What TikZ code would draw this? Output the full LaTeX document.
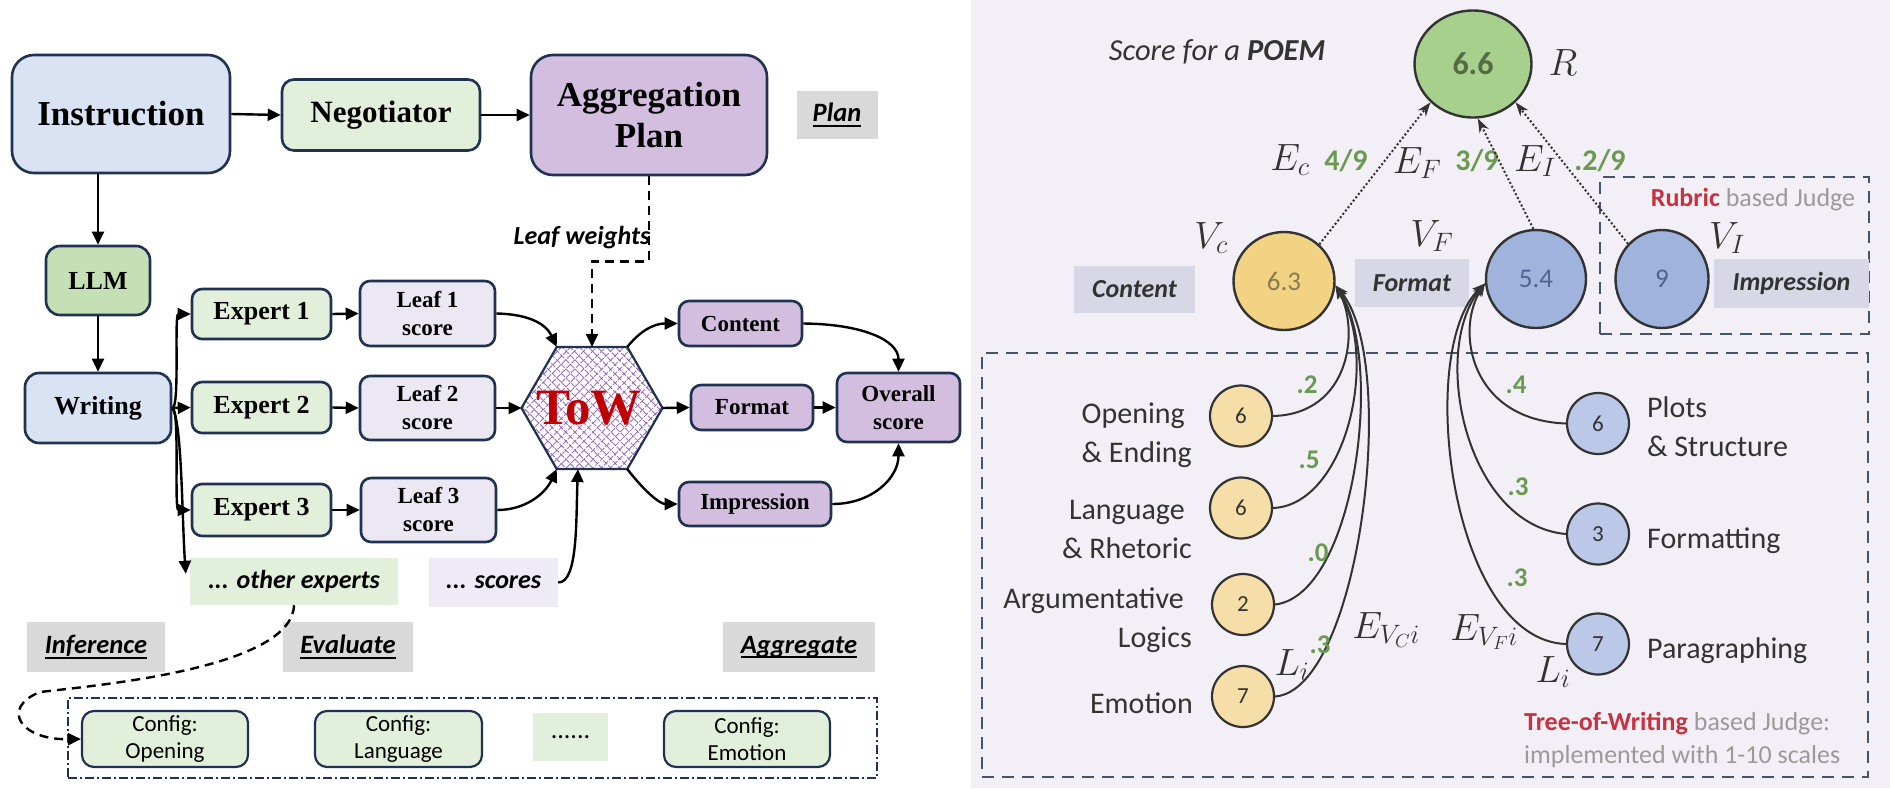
\RequirePackage{fix-cm}
\documentclass[tikz,border=0pt]{standalone}
\usepackage{fontspec}
\setmainfont{Carlito}
\newfontfamily\tnr{Liberation Serif}
\usetikzlibrary{arrows.meta,shapes.geometric,patterns.meta,calc}
\definecolor{navy}{HTML}{1F3251}
\definecolor{cblue}{HTML}{DAE3F3}
\definecolor{cgreenl}{HTML}{E2EFDA}
\definecolor{cllm}{HTML}{C5E0B4}
\definecolor{cpurp}{HTML}{D3BEE0}
\definecolor{cleafbg}{HTML}{EBE7F3}
\definecolor{cscores}{HTML}{EFEBF6}
\definecolor{cgray}{HTML}{D9D9D9}
\definecolor{rbg}{HTML}{F3EFF6}
\definecolor{rlab}{HTML}{D7D7E5}
\definecolor{cR}{HTML}{A8D08D}
\definecolor{cVc}{HTML}{F2D384}
\definecolor{cleafY}{HTML}{F6DEA8}
\definecolor{cVf}{HTML}{9FB3DD}
\definecolor{cleafB}{HTML}{BBC8E8}
\definecolor{wgreen}{HTML}{6A9A50}
\definecolor{tred}{HTML}{C8323F}
\definecolor{tgray}{HTML}{9A9A9A}
\definecolor{dframe}{HTML}{44546A}
\definecolor{tdark}{HTML}{333333}
\definecolor{hatch}{HTML}{7030A0}
\definecolor{towred}{HTML}{C00000}
\newcommand\fsz[2]{\fontsize{#1}{#2}\selectfont}
\newcommand\myul[1]{\setbox0\hbox{#1}\rlap{\rule[-5pt]{\wd0}{2.2pt}}\box0}
\begin{document}
\begin{tikzpicture}[x=1pt,y=-1pt,
  box/.style={draw=navy, line width=2.6pt, rounded corners=10pt, align=center, inner sep=0pt, text=black},
  tbig/.style={font=\tnr\bfseries\fsz{35}{41}},
  tmid/.style={font=\tnr\bfseries\fsz{26}{30}},
  tsml/.style={font=\tnr\bfseries\fsz{23}{28}},
  glabel/.style={fill=cgray, inner sep=0pt, font=\bfseries\itshape\fsz{26.5}{30}},
  arr/.style={line width=2.4pt, draw=black, -{Triangle[length=13pt,width=12pt]}},
  dasharr/.style={line width=2.4pt, draw=black, dash pattern=on 9pt off 6pt, -{Triangle[length=13pt,width=12pt]}},
  rlabel/.style={fill=rlab, inner sep=0pt, font=\bfseries\itshape\fsz{26}{30}, text=tdark},
  vnode/.style={ellipse, draw=tdark, line width=2.4pt, inner sep=0pt},
  lnode/.style={ellipse, draw=tdark, line width=2.2pt, inner sep=0pt, minimum width=62pt, minimum height=61pt, font=\fsz{23}{26}, text=tdark},
  mathl/.style={inner sep=0pt, font=\fsz{38}{40}, text=tdark},
  wlab/.style={inner sep=0pt, font=\bfseries\fsz{30}{32}, text=wgreen},
  wsml/.style={inner sep=0pt, font=\bfseries\fsz{27}{30}, text=wgreen},
  leaftxt/.style={inner sep=0pt, font=\fsz{30}{39}, text=tdark},
  dotarr/.style={line width=2pt, draw=tdark, dash pattern=on 2pt off 2.2pt, -{Stealth[length=14pt,width=10pt]}},
  curv/.style={line width=2pt, draw=tdark, -{Stealth[length=13pt,width=10pt]}},
  dframebox/.style={draw=dframe, line width=2.6pt, dash pattern=on 12pt off 8pt, inner sep=0pt}
]
\useasboundingbox (0,0) rectangle (1890,788);
% ---------------- left panel ----------------
\node[box, tbig, fill=cblue, rounded corners=22pt, minimum width=218pt, minimum height=118pt] (instr) at (121,114) {Instruction};
\node[box, font=\tnr\bfseries\fsz{31}{35}, fill=cgreenl, rounded corners=12pt, minimum width=198pt, minimum height=71pt] (nego) at (381,115) {Negotiator};
\node[box, tbig, fill=cpurp, rounded corners=22pt, minimum width=236pt, minimum height=120pt] (aggp) at (649,115) {Aggregation\\Plan};
\node[glabel, minimum width=81pt, minimum height=48pt] (plan) at (837,115) {\myul{Plan}};
\node[box, tmid, fill=cllm, rounded corners=14pt, minimum width=104pt, minimum height=69pt] (llm) at (98,280.5) {LLM};
\node[box, tmid, fill=cblue, rounded corners=14pt, minimum width=146pt, minimum height=70pt] (writing) at (98,408) {Writing};
\node[box, tmid, fill=cgreenl, minimum width=139pt, minimum height=50pt] (exp1) at (261.5,314) {Expert 1};
\node[box, tmid, fill=cgreenl, minimum width=139pt, minimum height=51pt] (exp2) at (261.5,407.5) {Expert 2};
\node[box, tmid, fill=cgreenl, minimum width=139pt, minimum height=52pt] (exp3) at (261.5,510) {Expert 3};
\node[box, tsml, fill=cleafbg, minimum width=135pt, minimum height=65pt] (leaf1) at (427.5,313.5) {Leaf 1\\score};
\node[box, tsml, fill=cleafbg, minimum width=135pt, minimum height=64pt] (leaf2) at (427.5,408) {Leaf 2\\score};
\node[box, tsml, fill=cleafbg, minimum width=135pt, minimum height=64pt] (leaf3) at (428.5,510) {Leaf 3\\score};
\node[fill=cgreenl, inner sep=0pt, minimum width=208pt, minimum height=47pt, font=\bfseries\itshape\fsz{26}{30}] (other) at (294,581.5) {... other experts};
\node[fill=cscores, inner sep=0pt, minimum width=129pt, minimum height=49pt, font=\bfseries\itshape\fsz{26}{30}] (scores) at (493.5,582.5) {... scores};
\node[regular polygon, regular polygon sides=6, minimum size=141pt, inner sep=0pt, outer sep=0pt,
  draw=navy, line width=2.2pt,
  preaction={fill=white},
  preaction={pattern={Lines[angle=45,distance=6.4pt,line width=1pt]}, pattern color=hatch},
  preaction={pattern={Lines[angle=-45,distance=6.4pt,line width=1pt]}, pattern color=hatch}] (tow) at (592,408) {};
\node[inner sep=0pt, font=\tnr\bfseries\fsz{51}{52}, text=towred] (towtxt) at (589,408) {ToW};
\node[box, tsml, fill=cpurp, minimum width=123pt, minimum height=45pt] (content) at (740.5,323.5) {Content};
\node[box, tsml, fill=cpurp, minimum width=122pt, minimum height=45pt] (format) at (752,407.5) {Format};
\node[box, tsml, fill=cpurp, minimum width=152pt, minimum height=44pt] (impr) at (755,504) {Impression};
\node[box, tsml, fill=cpurp, minimum width=123pt, minimum height=69pt] (overall) at (898.5,407.5) {Overall\\score};
\node[inner sep=0pt, font=\bfseries\itshape\fsz{26}{30}] (lw) at (582,238) {Leaf weights};
\node[glabel, minimum width=138pt, minimum height=50pt] (inference) at (96,647) {\myul{Inference}};
\node[glabel, minimum width=130pt, minimum height=50pt] (evaluate) at (348,647) {\myul{Evaluate}};
\node[glabel, minimum width=152pt, minimum height=50pt] (aggregate) at (799,647) {\myul{Aggregate}};
\node[draw=navy, line width=2.4pt, dash pattern=on 9pt off 3pt on 2pt off 3pt, minimum width=809pt, minimum height=80pt, inner sep=0pt] (cfgframe) at (472.5,738) {};
\node[box, font=\fsz{23}{27}, fill=cgreenl, line width=2.2pt, rounded corners=12pt, minimum width=166pt, minimum height=56pt] (copen) at (165,739) {Config:\\Opening};
\node[box, font=\fsz{23}{27}, fill=cgreenl, line width=2.2pt, rounded corners=12pt, minimum width=167pt, minimum height=56pt] (clang) at (398.5,739) {Config:\\Language};
\node[fill=cgreenl, inner sep=0pt, minimum width=75pt, minimum height=48pt, font=\fsz{26}{30}] (cdots) at (570.5,737) {......};
\node[box, font=\fsz{23}{27}, fill=cgreenl, line width=2.2pt, rounded corners=12pt, minimum width=166pt, minimum height=56pt] (cemo) at (747,739) {Config:\\Emotion};
% left connectors
\draw[arr] (instr.east) -- (nego.west);
\draw[arr] (nego.east) -- (aggp.west);
\draw[arr] (llm.north |- instr.south) -- (llm.north);
\draw[arr] (llm.south) -- (writing.north);
\draw[arr] (writing.east) .. controls (180,408) and (174,314) .. (exp1.west);
\draw[arr] (writing.east) -- (exp2.west);
\draw[arr] (writing.east) .. controls (180,408) and (174,510) .. (exp3.west);
\draw[arr] (writing.east) .. controls (182,420) and (182,520) .. ($(other.north west)+(-4,16)$);
\draw[arr] (exp1.east) -- (leaf1.west);
\draw[arr] (exp2.east) -- (leaf2.west);
\draw[arr] (exp3.east) -- (leaf3.west);
\draw[arr] (leaf1.east) .. controls (525,314) and (545,322) .. (tow.120);
\draw[arr] (leaf2.east) -- (tow.west);
\draw[arr] (leaf3.east) .. controls (525,510) and (545,494) .. (tow.240);
\draw[arr] (scores.east) .. controls (578,583) and (576,520) .. ($(tow.240)!0.3!(tow.300)$);
\draw[dasharr] (aggp.south) -- ++(0,85) -| (tow.north);
\draw[arr] (tow.60) .. controls (645,325) and (660,323.5) .. (content.west);
\draw[arr] (tow.east) -- (format.west);
\draw[arr] (tow.300) .. controls (645,492) and (660,504) .. (impr.west);
\draw[arr] (content.east) .. controls (862,324) and (898.5,340) .. (overall.north);
\draw[arr] (format.east) -- (overall.west);
\draw[arr] (impr.east) .. controls (872,504) and (898.5,478) .. (overall.south);
\draw[dasharr] (other.south) .. controls (292,668) and (100,685) .. (40,692) .. controls (0,708) and (20,740) .. (copen.west);
% ---------------- right panel ----------------
\fill[rbg] (971,0) rectangle (1890,788);
\node[dframebox, minimum width=886pt, minimum height=424pt] (towframe) at (1425,565) {};
\node[dframebox, minimum width=269pt, minimum height=157pt] (rubframe) at (1734.5,255.5) {};
\node[inner sep=0pt, font=\itshape\fsz{30.5}{34}, text=tdark] (title) at (1217,52) {Score for a \textbf{POEM}};
\node[vnode, fill=cR, minimum width=117pt, minimum height=107pt, font=\bfseries\fsz{32}{34}, text={rgb,255:red,85;green,107;blue,68}] (R) at (1473,64) {6.6};
\node[mathl] (Rl) at (1563,63) {$R$};
\node[rlabel, minimum width=121pt, minimum height=47pt] (contlbl) at (1134.5,289.5) {Content};
\node[rlabel, minimum width=114pt, minimum height=48pt] (fmtlbl) at (1412,283) {Format};
\node[rlabel, minimum width=155pt, minimum height=49pt] (impllbl) at (1791.5,283.5) {Impression};
\node[vnode, fill=cVc, minimum width=101pt, minimum height=98pt, font=\fsz{27}{30}, text={rgb,255:red,139;green,123;blue,79}] (vc) at (1284,281) {6.3};
\node[vnode, fill=cVf, minimum width=100pt, minimum height=98pt, font=\fsz{27}{30}, text={rgb,255:red,77;green,101;blue,146}] (vf) at (1536,279) {5.4};
\node[vnode, fill=cVf, minimum width=93pt, minimum height=98pt, font=\fsz{27}{30}, text={rgb,255:red,77;green,101;blue,146}] (vi) at (1662,279) {9};
\node[mathl] (Vcl) at (1211,238) {$V_c$};
\node[mathl] (Vfl) at (1432,236) {$V_F$};
\node[mathl] (Vil) at (1727,238) {$V_I$};
\node[mathl] (Ecl) at (1290,160) {$E_c$};
\node[mathl] (Efl) at (1417,163) {$E_F$};
\node[mathl] (Eil) at (1535,161) {$E_I$};
\node[wlab] (w49) at (1346,161) {4/9};
\node[wlab] (w39) at (1477,161) {3/9};
\node[wlab] (w29) at (1600,161) {.2/9};
\node[inner sep=0pt, font=\fsz{26}{30}] (rubtxt) at (1753,200) {{\color{tred}\bfseries Rubric} {\color{tgray}based Judge}};
\draw[dotarr] (vc.46) -- (R.222);
\draw[dotarr] (vf.93) -- (R.275);
\draw[dotarr] (vi.134) -- (R.318);
% content leaves
\node[lnode, fill=cleafY] (lop) at (1241,416) {6};
\node[lnode, fill=cleafY] (llang) at (1241,508) {6};
\node[lnode, fill=cleafY] (larg) at (1243,604.5) {2};
\node[lnode, fill=cleafY] (lemo) at (1243,696.5) {7};
\node[leaftxt, anchor=east, align=right] (toplbl) at (1192,435.5) {Opening\kern7pt\\\& Ending};
\node[leaftxt, anchor=east, align=right] (tlanglbl) at (1192,529) {Language\kern7pt\\\& Rhetoric};
\node[leaftxt, anchor=east, align=right] (targlbl) at (1192,620) {Argumentative\kern8pt\\Logics};
\node[leaftxt, anchor=east] (temolbl) at (1193,703) {Emotion};
\draw[curv] (lop.east) .. controls (1350,414) and (1360,330) .. (vc.-5);
\draw[curv] (llang.east) .. controls (1345,505) and (1380,360) .. (vc.-5);
\draw[curv] (larg.east) .. controls (1355,595) and (1385,360) .. (vc.-5);
\draw[curv] (lemo.east) .. controls (1360,690) and (1400,360) .. (vc.-5);
\node[wsml] (wc1) at (1307,385) {.2};
\node[wsml] (wc2) at (1309,460) {.5};
\node[wsml] (wc3) at (1318,553) {.0};
\node[wsml] (wc4) at (1320,645) {.3};
\node[mathl] (Lic) at (1292,665) {$L_i$};
\node[mathl] (Evc) at (1386,630) {$E_{V_C i}$};
% format leaves
\node[lnode, fill=cleafB] (lplot) at (1598,423.5) {6};
\node[lnode, fill=cleafB] (lfmt) at (1598,534) {3};
\node[lnode, fill=cleafB] (lpar) at (1598,644) {7};
\node[leaftxt, anchor=west, align=left] (tplot) at (1647,427) {Plots\\\& Structure};
\node[leaftxt, anchor=west] (tfmt) at (1647,541) {Formatting};
\node[leaftxt, anchor=west] (tpar) at (1647,651) {Paragraphing};
\draw[curv] (lplot.west) .. controls (1470,420) and (1455,330) .. (vf.185);
\draw[curv] (lfmt.west) .. controls (1465,525) and (1430,350) .. (vf.185);
\draw[curv] (lpar.west) .. controls (1450,640) and (1415,350) .. (vf.185);
\node[wsml] (wf1) at (1516,385) {.4};
\node[wsml] (wf2) at (1518,487) {.3};
\node[wsml] (wf3) at (1517,578) {.3};
\node[mathl] (Evf) at (1484,632) {$E_{V_F i}$};
\node[mathl] (Lif) at (1553,672) {$L_i$};
\node[inner sep=0pt, anchor=west, align=left, font=\fsz{26}{33}, text=tgray] (towjudge) at (1524,740) {{\color{tred}\bfseries Tree-of-Writing} based Judge:\\implemented with 1-10 scales};
\end{tikzpicture}
\end{document}
